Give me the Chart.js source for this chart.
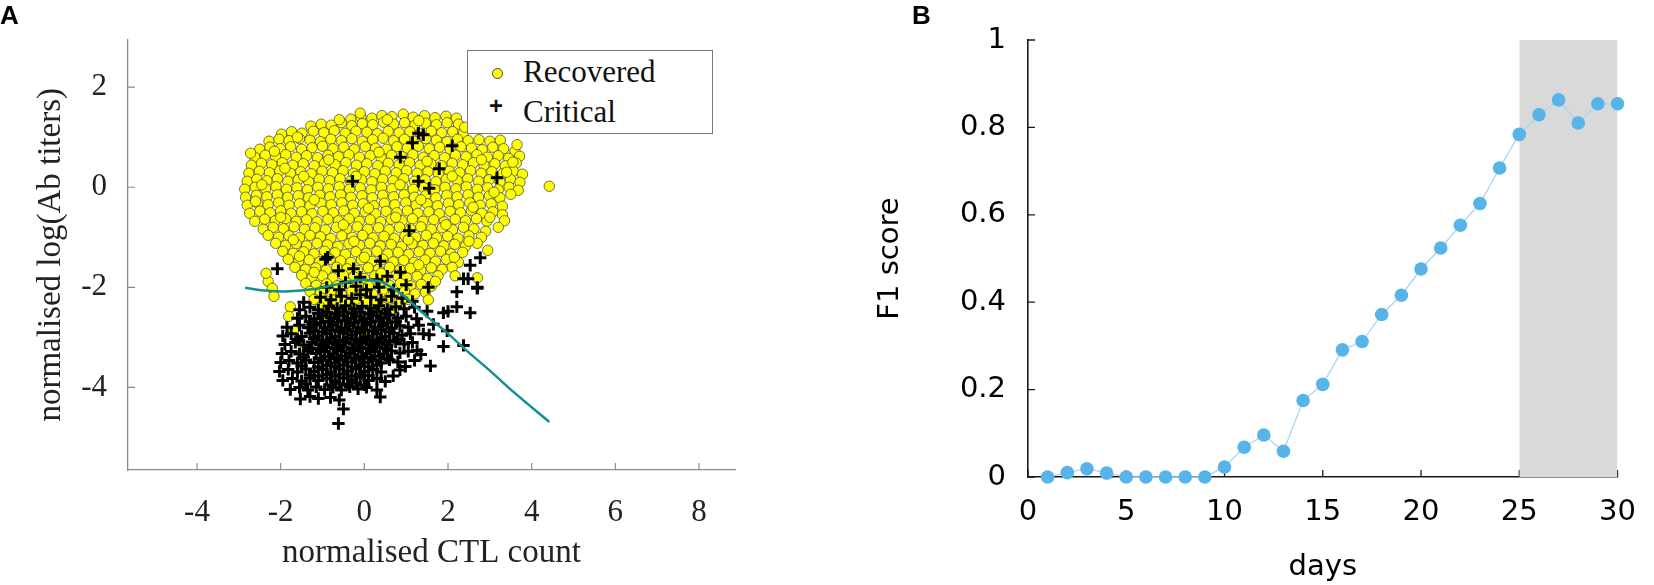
<!DOCTYPE html>
<html>
<head>
<meta charset="utf-8">
<script src="https://cdn.jsdelivr.net/npm/chart.js@4.4.1/dist/chart.umd.min.js"></script>
<style>
  html, body { margin: 0; padding: 0; background: #fff; overflow: hidden; }
  #page { position: relative; width: 1654px; height: 585px; }
  .panel { position: absolute; top: 0; height: 585px; }
  #panelA { left: 0; width: 760px; }
  #panelB { left: 840px; width: 814px; }
  .tag { position: absolute; font: bold 26px 'Liberation Sans', Arial, sans-serif; line-height: 26px; color: #000; }
  #legendA {
    position: absolute; left: 467px; top: 50px; width: 244px; height: 82px;
    border: 1px solid #7a7a7a; background: #fff;
    font: 31px 'Liberation Serif', 'DejaVu Serif', serif; color: #111;
  }
  #legendA .row { position: absolute; left: 0; height: 40px; line-height: 40px; }
  #legendA .lab { position: absolute; left: 55px; white-space: nowrap; }
  #legendA .dot {
    position: absolute; left: 24px; top: 16px; width: 9px; height: 9px; border-radius: 50%;
    background: #ffff00; border: 1px solid #444;
  }
  #legendA .plus { position: absolute; left: 21px; top: 0; font: bold 24px 'Liberation Sans', Arial, sans-serif; }
</style>
</head>
<body>
<div id="page">
  <div class="panel" id="panelA"><canvas id="chartA"></canvas></div>
  <div class="panel" id="panelB"><canvas id="chartB"></canvas></div>
  <div class="tag" style="left:0px; top:2px;">A</div>
  <div class="tag" style="left:912px; top:2px;">B</div>
  <div id="legendA">
    <div class="row" style="top:1px;"><span class="dot"></span><span class="lab">Recovered</span></div>
    <div class="row" style="top:41px;"><span class="plus">+</span><span class="lab">Critical</span></div>
  </div>
</div>
<script>
// ---- panel A data (normalised CTL count, normalised log Ab titers) ----
const recovered = [
  [-0.32,1.36],[-0.08,1.40],[0.18,1.38],[0.42,1.43],[0.66,1.41],[0.93,1.46],[1.17,1.40],[1.44,1.43],[1.69,1.39],[1.95,1.42],[2.2,1.38],
  [-1.28,1.22],[-1.03,1.26],[-0.79,1.24],[-0.55,1.29],[-0.3,1.23],[-0.05,1.27],[0.2,1.25],[0.46,1.30],[0.7,1.26],[0.96,1.29],[1.21,1.24],[1.46,1.28],[1.72,1.25],[1.98,1.29],[2.25,1.26],
  [-1.98,1.06],[-1.74,1.11],[-1.49,1.08],[-1.22,1.12],[-0.97,1.09],[-0.72,1.13],[-0.46,1.08],[-0.2,1.12],[0.06,1.10],[0.31,1.07],[0.57,1.12],[0.83,1.09],[1.09,1.11],[1.34,1.07],[1.6,1.12],[1.85,1.09],[2.11,1.11],[2.37,1.08],
  [-2.28,0.92],[-2.04,0.96],[-1.8,0.93],[-1.55,0.97],[-1.3,0.94],[-1.05,0.91],[-0.8,0.96],[-0.55,0.93],[-0.3,0.97],[-0.05,0.92],[0.2,0.95],[0.45,0.98],[0.7,0.93],[0.96,0.96],[1.21,0.92],[1.47,0.97],[1.72,0.94],[1.98,0.91],[2.23,0.96],[2.48,0.93],[2.74,0.95],[3.0,0.92],[3.25,0.94],
  [-2.5,0.76],[-2.26,0.80],[-2.01,0.77],[-1.76,0.81],[-1.5,0.76],[-1.25,0.79],[-1.0,0.82],[-0.75,0.77],[-0.49,0.80],[-0.24,0.76],[0.02,0.81],[0.27,0.78],[0.53,0.76],[0.78,0.81],[1.03,0.78],[1.29,0.82],[1.55,0.77],[1.8,0.80],[2.05,0.76],[2.31,0.81],[2.56,0.78],[2.82,0.75],[3.07,0.80],[3.33,0.77],[3.6,0.72],
  [-2.62,0.60],[-2.37,0.64],[-2.12,0.61],[-1.88,0.65],[-1.63,0.60],[-1.38,0.63],[-1.12,0.59],[-0.87,0.64],[-0.62,0.61],[-0.37,0.65],[-0.12,0.60],[0.14,0.63],[0.4,0.59],[0.65,0.64],[0.9,0.61],[1.16,0.65],[1.41,0.60],[1.67,0.63],[1.92,0.59],[2.18,0.64],[2.43,0.61],[2.69,0.65],[2.94,0.60],[3.2,0.63],[3.45,0.58],[3.71,0.62],
  [-2.7,0.44],[-2.46,0.48],[-2.21,0.45],[-1.96,0.49],[-1.71,0.44],[-1.46,0.47],[-1.2,0.43],[-0.95,0.48],[-0.7,0.45],[-0.44,0.49],[-0.19,0.44],[0.06,0.47],[0.32,0.43],[0.57,0.48],[0.83,0.45],[1.08,0.49],[1.33,0.44],[1.59,0.47],[1.84,0.43],[2.1,0.48],[2.35,0.45],[2.61,0.49],[2.86,0.44],[3.12,0.47],[3.37,0.43],[3.63,0.48],
  [-2.76,0.28],[-2.51,0.32],[-2.27,0.29],[-2.02,0.33],[-1.77,0.28],[-1.52,0.31],[-1.27,0.27],[-1.01,0.32],[-0.76,0.29],[-0.51,0.33],[-0.26,0.28],[0.0,0.31],[0.25,0.27],[0.5,0.32],[0.76,0.29],[1.01,0.33],[1.26,0.28],[1.52,0.31],[1.77,0.27],[2.03,0.32],[2.28,0.29],[2.54,0.33],[2.79,0.28],[3.05,0.31],[3.3,0.27],[3.56,0.32],[3.78,0.26],
  [-2.8,0.12],[-2.57,0.16],[-2.33,0.13],[-2.08,0.17],[-1.83,0.12],[-1.58,0.15],[-1.33,0.11],[-1.08,0.16],[-0.83,0.13],[-0.58,0.17],[-0.33,0.12],[-0.07,0.15],[0.18,0.11],[0.44,0.16],[0.69,0.13],[0.94,0.17],[1.2,0.12],[1.45,0.15],[1.71,0.11],[1.96,0.16],[2.22,0.13],[2.47,0.17],[2.73,0.12],[2.98,0.15],[3.24,0.11],[3.49,0.16],[3.72,0.10],
  [-2.86,-0.04],[-2.61,0.0],[-2.36,-0.03],[-2.11,0.01],[-1.86,-0.04],[-1.61,-0.01],[-1.36,-0.05],[-1.11,0.0],[-0.86,-0.03],[-0.6,0.01],[-0.35,-0.04],[-0.1,-0.01],[0.16,-0.05],[0.41,0.0],[0.66,-0.03],[0.92,0.01],[1.17,-0.04],[1.42,-0.01],[1.68,-0.05],[1.93,0.0],[2.19,-0.03],[2.44,0.01],[2.7,-0.04],[2.95,-0.01],[3.2,-0.05],[3.46,0.0],[3.68,-0.06],[4.42,0.02],
  [-2.84,-0.20],[-2.58,-0.16],[-2.33,-0.19],[-2.08,-0.15],[-1.83,-0.20],[-1.58,-0.17],[-1.33,-0.21],[-1.07,-0.16],[-0.82,-0.19],[-0.57,-0.15],[-0.32,-0.20],[-0.06,-0.17],[0.19,-0.21],[0.44,-0.16],[0.7,-0.19],[0.95,-0.15],[1.2,-0.20],[1.46,-0.17],[1.71,-0.21],[1.97,-0.16],[2.22,-0.19],[2.48,-0.15],[2.73,-0.20],[2.99,-0.17],[3.24,-0.21],[3.5,-0.14],
  [-2.8,-0.36],[-2.55,-0.32],[-2.3,-0.35],[-2.05,-0.31],[-1.8,-0.36],[-1.55,-0.33],[-1.3,-0.37],[-1.04,-0.32],[-0.79,-0.35],[-0.54,-0.31],[-0.28,-0.36],[-0.03,-0.33],[0.23,-0.37],[0.48,-0.32],[0.73,-0.35],[0.99,-0.31],[1.24,-0.36],[1.5,-0.33],[1.75,-0.37],[2.01,-0.32],[2.26,-0.35],[2.52,-0.31],[2.77,-0.36],[3.03,-0.33],[3.3,-0.38],
  [-2.74,-0.52],[-2.5,-0.48],[-2.25,-0.51],[-2.0,-0.47],[-1.75,-0.52],[-1.5,-0.49],[-1.25,-0.53],[-0.99,-0.48],[-0.74,-0.51],[-0.49,-0.47],[-0.24,-0.52],[0.02,-0.49],[0.27,-0.53],[0.52,-0.48],[0.78,-0.51],[1.03,-0.47],[1.28,-0.52],[1.54,-0.49],[1.79,-0.53],[2.05,-0.48],[2.3,-0.51],[2.56,-0.47],[2.81,-0.52],[3.07,-0.49],[3.3,-0.55],
  [-2.62,-0.68],[-2.38,-0.64],[-2.13,-0.67],[-1.88,-0.63],[-1.63,-0.68],[-1.38,-0.65],[-1.13,-0.69],[-0.87,-0.64],[-0.62,-0.67],[-0.37,-0.63],[-0.12,-0.68],[0.14,-0.65],[0.39,-0.69],[0.64,-0.64],[0.9,-0.67],[1.15,-0.63],[1.4,-0.68],[1.66,-0.65],[1.91,-0.69],[2.17,-0.64],[2.42,-0.67],[2.68,-0.63],[2.93,-0.68],[3.35,-0.67],
  [-2.42,-0.84],[-2.18,-0.80],[-1.93,-0.83],[-1.68,-0.79],[-1.43,-0.84],[-1.18,-0.81],[-0.93,-0.85],[-0.67,-0.80],[-0.42,-0.83],[-0.17,-0.79],[0.08,-0.84],[0.34,-0.81],[0.59,-0.85],[0.84,-0.80],[1.1,-0.83],[1.35,-0.79],[1.6,-0.84],[1.86,-0.81],[2.11,-0.85],[2.37,-0.80],[2.62,-0.83],[2.9,-0.88],[3.2,-0.80],
  [-2.3,-0.96],[-2.05,-1.0],[-1.8,-0.97],[-1.55,-1.01],[-1.3,-0.96],[-1.05,-0.99],[-0.8,-1.02],[-0.54,-0.97],[-0.29,-1.0],[-0.04,-0.96],[0.21,-1.01],[0.47,-0.98],[0.72,-1.02],[0.97,-0.97],[1.23,-1.0],[1.48,-0.96],[1.73,-1.01],[1.99,-0.98],[2.24,-1.02],[2.5,-0.97],[2.8,-1.0],
  [-2.12,-1.12],[-1.88,-1.16],[-1.63,-1.13],[-1.38,-1.17],[-1.13,-1.12],[-0.88,-1.15],[-0.63,-1.18],[-0.37,-1.13],[-0.12,-1.16],[0.13,-1.12],[0.38,-1.17],[0.64,-1.14],[0.89,-1.18],[1.14,-1.13],[1.4,-1.16],[1.65,-1.12],[1.9,-1.17],[2.16,-1.14],[2.42,-1.18],[2.7,-1.12],
  [-1.95,-1.28],[-1.7,-1.32],[-1.45,-1.29],[-1.2,-1.33],[-0.95,-1.28],[-0.7,-1.31],[-0.45,-1.34],[-0.2,-1.29],[0.05,-1.32],[0.3,-1.28],[0.56,-1.33],[0.81,-1.30],[1.06,-1.34],[1.31,-1.29],[1.57,-1.32],[1.82,-1.28],[2.07,-1.33],[2.35,-1.30],[2.95,-1.26],
  [-1.82,-1.44],[-1.57,-1.48],[-1.32,-1.45],[-1.07,-1.49],[-0.82,-1.44],[-0.57,-1.47],[-0.32,-1.50],[-0.07,-1.45],[0.18,-1.48],[0.44,-1.44],[0.69,-1.49],[0.94,-1.46],[1.19,-1.50],[1.45,-1.45],[1.7,-1.48],[1.96,-1.44],[2.25,-1.50],
  [-1.66,-1.60],[-1.41,-1.64],[-1.16,-1.61],[-0.91,-1.65],[-0.66,-1.60],[-0.41,-1.63],[-0.16,-1.66],[0.09,-1.61],[0.34,-1.64],[0.6,-1.60],[0.85,-1.65],[1.1,-1.62],[1.35,-1.66],[1.6,-1.61],[1.86,-1.64],[2.1,-1.60],
  [-2.3,-1.88],[-1.5,-1.76],[-1.25,-1.80],[-1.0,-1.77],[-0.75,-1.81],[-0.5,-1.76],[-0.25,-1.79],[0.0,-1.82],[0.25,-1.77],[0.5,-1.80],[0.76,-1.76],[1.01,-1.81],[1.26,-1.78],[1.51,-1.82],[1.76,-1.77],[2.17,-1.77],[2.7,-1.81],
  [-2.2,-2.02],[-1.4,-1.92],[-1.15,-1.96],[-0.9,-1.93],[-0.65,-1.97],[-0.4,-1.92],[-0.15,-1.95],[0.1,-1.98],[0.35,-1.93],[0.6,-1.96],[0.86,-1.92],[1.11,-1.97],[1.36,-1.94],[1.6,-1.98],
  [-2.16,-2.18],[-1.3,-2.08],[-1.05,-2.12],[-0.8,-2.09],[-0.55,-2.13],[-0.3,-2.08],[-0.05,-2.11],[0.2,-2.14],[0.45,-2.09],[0.7,-2.12],[0.96,-2.08],[1.21,-2.13],[1.46,-2.10],
  [-1.2,-2.24],[-0.95,-2.28],[-0.7,-2.25],[-0.45,-2.29],[-0.2,-2.24],[0.05,-2.27],[0.3,-2.30],[0.55,-2.25],[0.8,-2.28],[1.05,-2.24],[1.53,-2.25],
  [-1.77,-2.39],[-1.05,-2.40],[-0.8,-2.44],[-0.3,-2.42],[0.2,-2.45],[0.45,-2.40],[0.7,-2.43],
  [-1.81,-2.58],[-0.9,-2.62],[-0.4,-2.60],[0.1,-2.64],[0.4,-2.58],
  [-1.69,-2.87],[-0.55,-2.82],[0.0,-2.90],[0.3,-3.0],[-1.48,-3.30],
  // loose points scattered over the cloud
  [-2.15,0.72],[-1.6,1.0],[-0.6,1.35],[0.55,1.35],[1.3,1.33],[-1.9,0.38],[-0.85,0.55],[0.35,0.7],[1.5,0.52],[2.8,0.55],[3.4,0.3],
  [-2.45,0.05],[-1.45,0.22],[-0.2,0.22],[0.85,0.05],[2.1,0.22],[3.1,-0.1],[-2.6,-0.28],[-1.2,-0.25],[0.1,-0.42],[1.35,-0.25],
  [2.6,-0.4],[-2.0,-0.6],[-0.5,-0.75],[0.75,-0.6],[1.95,-0.75],[3.0,-0.6],[-1.7,-1.05],[-0.25,-1.08],[1.05,-1.05],[2.5,-1.08],
  [-1.55,-1.38],[0.0,-1.4],[1.3,-1.55],[2.15,-1.4],[-1.2,-1.7],[0.4,-1.72],[1.7,-1.88],[-0.95,-2.02],[0.6,-2.2],[-2.35,-1.72],
  [3.55,0.5],[3.65,0.85],[-2.72,0.68],[-0.1,1.48],[2.4,1.2],[-0.2,-2.55],[0.55,-2.7],[-0.75,-2.72]
];

const critical = [
  [1.29,1.08],[1.41,1.05],[1.15,0.89],[2.1,0.83],[0.86,0.6],[1.79,0.37],[3.17,0.19],[-0.28,0.12],[1.29,0.12],[1.55,-0.02],
  [1.07,-0.87],[-0.93,-1.44],[-0.88,-1.40],[-2.08,-1.63],
  [2.77,-1.41],[2.53,-1.56],[2.48,-1.83],[2.7,-2.0],[2.37,-1.83],[2.21,-2.09],[1.53,-2.0],[0.86,-1.7],[0.38,-1.48],[-0.26,-1.63],[-0.62,-1.67],
  [1.89,-3.18],[2.37,-3.16],[1.98,-2.87],[1.65,-2.74],[1.89,-2.51],[2.0,-2.48],[2.53,-2.51],[2.21,-2.39],[2.7,-2.02],[1.5,-2.48],[1.41,-2.93],[1.26,-3.26],
  [-0.1,-1.8],[0.3,-1.85],[0.55,-1.78],[-0.45,-1.9],
  [-0.9,-2.0],[-0.6,-2.05],[-0.2,-1.98],[0.05,-2.05],[0.35,-2.0],[0.7,-2.05],[1.0,-1.95],
  [-1.45,-2.3],[-1.05,-2.2],[-0.8,-2.25],[-0.55,-2.18],[-0.3,-2.22],[-0.1,-2.15],[0.15,-2.2],[0.4,-2.25],[0.65,-2.18],[0.9,-2.22],[1.15,-2.28],
  [-1.55,-2.45],[-1.3,-2.4],[-1.1,-2.45],[-0.85,-2.38],[-0.65,-2.42],[-0.45,-2.37],[-0.25,-2.43],[-0.05,-2.38],[0.15,-2.42],[0.35,-2.37],[0.55,-2.44],[0.75,-2.39],[0.95,-2.43],[1.2,-2.4],
  [-1.6,-2.62],[-1.4,-2.58],[-1.2,-2.63],[-1.0,-2.57],[-0.8,-2.61],[-0.6,-2.56],[-0.4,-2.62],[-0.2,-2.58],[0.0,-2.63],[0.2,-2.57],[0.4,-2.61],[0.6,-2.56],[0.8,-2.62],[1.0,-2.58],[1.25,-2.63],
  [-1.85,-2.8],[-1.55,-2.76],[-1.35,-2.81],[-1.15,-2.75],[-0.95,-2.8],[-0.75,-2.76],[-0.55,-2.82],[-0.35,-2.77],[-0.15,-2.81],[0.05,-2.75],[0.25,-2.8],[0.45,-2.76],[0.65,-2.82],[0.85,-2.77],[1.05,-2.8],[1.3,-2.76],
  [-1.95,-2.97],[-1.75,-2.93],[-1.5,-2.98],[-1.3,-2.92],[-1.1,-2.97],[-0.9,-2.93],[-0.7,-2.98],[-0.5,-2.92],[-0.3,-2.96],[-0.1,-2.91],[0.1,-2.97],[0.3,-2.93],[0.5,-2.98],[0.7,-2.92],[0.9,-2.96],[1.1,-2.93],[1.55,-2.95],
  [-1.9,-3.14],[-1.65,-3.1],[-1.45,-3.15],[-1.25,-3.09],[-1.05,-3.14],[-0.85,-3.1],[-0.65,-3.15],[-0.45,-3.09],[-0.25,-3.13],[-0.05,-3.08],[0.15,-3.14],[0.35,-3.1],[0.55,-3.15],[0.75,-3.09],[0.95,-3.13],[1.15,-3.1],
  [-1.97,-3.32],[-1.75,-3.28],[-1.55,-3.33],[-1.35,-3.27],[-1.15,-3.32],[-0.95,-3.28],[-0.75,-3.33],[-0.55,-3.27],[-0.35,-3.31],[-0.15,-3.26],[0.05,-3.32],[0.25,-3.28],[0.45,-3.33],[0.65,-3.27],[0.85,-3.31],[1.05,-3.28],[1.35,-3.34],
  [-2.0,-3.5],[-1.8,-3.46],[-1.6,-3.51],[-1.4,-3.45],[-1.2,-3.5],[-1.0,-3.46],[-0.8,-3.51],[-0.6,-3.45],[-0.4,-3.49],[-0.2,-3.44],[0.0,-3.5],[0.2,-3.46],[0.4,-3.51],[0.6,-3.45],[0.8,-3.49],[0.98,-3.58],[1.2,-3.46],[1.58,-3.57],
  [-2.03,-3.68],[-1.82,-3.64],[-1.6,-3.69],[-1.4,-3.63],[-1.2,-3.68],[-1.0,-3.64],[-0.8,-3.69],[-0.6,-3.63],[-0.4,-3.67],[-0.2,-3.62],[0.0,-3.68],[0.2,-3.64],[0.4,-3.69],[0.69,-3.77],[0.85,-3.65],
  [-1.95,-3.86],[-1.72,-3.82],[-1.5,-3.87],[-1.3,-3.81],[-1.1,-3.86],[-0.9,-3.82],[-0.7,-3.87],[-0.5,-3.81],[-0.3,-3.85],[-0.1,-3.8],[0.1,-3.86],[0.3,-3.82],[0.5,-3.88],
  [-1.77,-4.04],[-1.55,-4.0],[-1.35,-4.05],[-1.15,-3.99],[-0.95,-4.04],[-0.75,-4.0],[-0.55,-4.05],[-0.35,-3.99],[-0.15,-4.03],[0.05,-4.0],[0.3,-4.05],
  [-1.53,-4.23],[-1.3,-4.18],[-1.1,-4.22],[-0.81,-4.2],[-0.6,-4.25],[0.38,-4.19],
  [-0.5,-4.43],[-0.62,-4.72],
  // dense core of the critical cloud
  [-1.1,-2.52],[-0.9,-2.5],[-0.7,-2.53],[-0.5,-2.49],[-0.3,-2.52],[-0.1,-2.5],[0.1,-2.53],[0.3,-2.49],[0.5,-2.52],
  [-1.3,-2.69],[-1.05,-2.71],[-0.85,-2.68],[-0.65,-2.7],[-0.45,-2.67],[-0.25,-2.71],[-0.05,-2.68],[0.15,-2.7],[0.35,-2.67],[0.55,-2.71],[0.75,-2.69],
  [-1.2,-2.87],[-1.0,-2.89],[-0.8,-2.86],[-0.6,-2.88],[-0.4,-2.85],[-0.2,-2.89],[0.0,-2.86],[0.2,-2.88],[0.4,-2.85],[0.6,-2.89],
  [-1.6,-3.04],[-1.2,-3.02],[-1.0,-3.05],[-0.8,-3.03],[-0.6,-3.06],[-0.4,-3.02],[-0.2,-3.04],[0.0,-3.02],[0.2,-3.05],[0.4,-3.03],[0.6,-3.06],[0.8,-3.03],
  [-1.3,-3.21],[-1.1,-3.23],[-0.9,-3.2],[-0.7,-3.22],[-0.5,-3.19],[-0.3,-3.23],[-0.1,-3.2],[0.1,-3.22],[0.3,-3.19],[0.5,-3.22],
  [-1.45,-3.39],[-1.05,-3.41],[-0.85,-3.38],[-0.65,-3.4],[-0.45,-3.37],[-0.25,-3.41],[-0.05,-3.38],[0.15,-3.4],[0.35,-3.37],[0.55,-3.41],
  [-1.5,-3.57],[-1.1,-3.59],[-0.9,-3.56],[-0.7,-3.58],[-0.5,-3.55],[-0.3,-3.59],[-0.1,-3.56],[0.1,-3.58],[0.3,-3.55],
  [-1.3,-3.75],[-1.1,-3.77],[-0.9,-3.74],[-0.7,-3.76],[-0.5,-3.73],[-0.3,-3.77],[-0.1,-3.74],[0.1,-3.76],
  [-1.4,-3.93],[-0.8,-3.95],[-0.6,-3.92],[-0.4,-3.94],[-0.2,-3.91],[0.0,-3.95]
];

// decision boundary
const boundaryX = [-2.85, -2.31, -1.78, -1.25, -0.71, -0.18, 0.19, 0.46, 0.88, 1.42, 1.95, 2.48, 3.02, 3.55, 4.42];
const boundaryY = [-2.01, -2.07, -2.08, -2.04, -1.95, -1.86, -1.86, -1.91, -2.13, -2.53, -2.89, -3.29, -3.68, -4.08, -4.69];

const ctlTicks = [-4, -2, 0, 2, 4, 6, 8];
const abTicks = [-4, -2, 0, 2];

// ---- panel B data ----
const days = [1, 2, 3, 4, 5, 6, 7, 8, 9, 10, 11, 12, 13, 14, 15, 16, 17, 18, 19, 20, 21, 22, 23, 24, 25, 26, 27, 28, 29, 30];
const f1Scores = [0, 0.010, 0.019, 0.009, 0, 0, 0, 0, 0, 0.023, 0.068, 0.096, 0.059, 0.175, 0.212, 0.291, 0.310, 0.372, 0.416, 0.476,
                  0.524, 0.576, 0.626, 0.707, 0.784, 0.829, 0.863, 0.810, 0.854, 0.854];
const shadedDays = [25, 30];
const dayTicks = [0, 5, 10, 15, 20, 25, 30];
const f1Ticks = [0, 0.2, 0.4, 0.6, 0.8, 1];

// small ticks pointing into the plot, like the original figure
const inwardTicks = {
    id: 'inwardTicks',
    beforeDatasetsDraw(chart, args, opts) {
        const { ctx, chartArea, scales } = chart;
        ctx.save();
        ctx.strokeStyle = opts.color;
        ctx.lineWidth = opts.width;
        ctx.beginPath();
        scales.x.ticks.forEach(t => {
            const px = scales.x.getPixelForValue(t.value);
            ctx.moveTo(px, chartArea.bottom);
            ctx.lineTo(px, chartArea.bottom - opts.length);
        });
        scales.y.ticks.forEach(t => {
            const py = scales.y.getPixelForValue(t.value);
            ctx.moveTo(chartArea.left, py);
            ctx.lineTo(chartArea.left + opts.length, py);
        });
        ctx.stroke();
        ctx.restore();
    }
};

const serif = "'Liberation Serif', 'DejaVu Serif', serif";
const sans = "'DejaVu Sans', 'Liberation Sans', sans-serif";

new Chart(document.getElementById('chartA').getContext('2d'), {
    type: 'scatter',
    data: {
        datasets: [
            {
                label: 'boundary',
                data: boundaryX.map((x, i) => ({ x: x, y: boundaryY[i] })),
                showLine: true,
                borderColor: '#13908d',
                borderWidth: 2.5,
                pointRadius: 0,
                tension: 0.35,
                order: 0
            },
            {
                label: 'Critical',
                data: critical.map(p => ({ x: p[0], y: p[1] })),
                pointStyle: 'cross',
                pointRadius: 6.2,
                borderColor: '#000',
                borderWidth: 3,
                order: 1
            },
            {
                label: 'Recovered',
                data: recovered.map(p => ({ x: p[0], y: p[1] })),
                pointRadius: 5.2,
                backgroundColor: '#ffff00',
                borderColor: '#4a4a3a',
                borderWidth: 0.8,
                order: 2
            }
        ]
    },
    options: {
        responsive: true,
        maintainAspectRatio: false,
        animation: false,
        events: [],
        layout: { padding: { left: 0, right: 25, top: 27, bottom: 0 } },
        scales: {
            x: {
                type: 'linear',
                min: -5.65,
                max: 8.86,
                afterFit: s => { s.height = 115; },
                afterBuildTicks: s => { s.ticks = ctlTicks.map(v => ({ value: v })); },
                grid: { drawOnChartArea: false, drawTicks: false },
                border: { color: '#8a8a8a', width: 1.3 },
                ticks: { font: { family: serif, size: 31 }, color: '#222', padding: 24, maxRotation: 0, autoSkip: false },
                title: { display: true, text: 'normalised CTL count', font: { family: serif, size: 33 }, color: '#222', padding: { top: 0, bottom: 12 } }
            },
            y: {
                type: 'linear',
                min: -5.65,
                max: 2.95,
                afterFit: s => { s.width = 128; },
                afterBuildTicks: s => { s.ticks = abTicks.map(v => ({ value: v })); },
                grid: { drawOnChartArea: false, drawTicks: false },
                border: { color: '#8a8a8a', width: 1.3 },
                ticks: { font: { family: serif, size: 31 }, color: '#222', padding: 21 },
                title: { display: true, text: 'normalised log(Ab titers)', font: { family: serif, size: 33 }, color: '#222', padding: { top: 32, bottom: 0 } }
            }
        },
        plugins: {
            legend: { display: false },
            tooltip: { enabled: false },
            inwardTicks: { color: '#8a8a8a', width: 1.2, length: 7 }
        }
    },
    plugins: [inwardTicks]
});

new Chart(document.getElementById('chartB').getContext('2d'), {
    type: 'scatter',
    data: {
        datasets: [
            {
                label: 'F1 score',
                data: days.map((d, i) => ({ x: d, y: f1Scores[i] })),
                showLine: true,
                borderColor: '#a8d5f2',
                borderWidth: 1.3,
                pointRadius: 6.8,
                pointBackgroundColor: '#56b4e9',
                pointBorderWidth: 0,
                clip: false,
                order: 0
            },
            {
                label: 'window',
                data: shadedDays.map(d => ({ x: d, y: 1 })),
                showLine: true,
                fill: 'origin',
                backgroundColor: '#d9d9d9',
                borderWidth: 0,
                pointRadius: 0,
                order: 1
            }
        ]
    },
    options: {
        responsive: true,
        maintainAspectRatio: false,
        animation: false,
        events: [],
        layout: { padding: { left: 0, right: 27, top: 40, bottom: 0 } },
        scales: {
            x: {
                type: 'linear',
                min: 0,
                max: 30,
                afterFit: s => { s.height = 108; },
                afterBuildTicks: s => { s.ticks = dayTicks.map(v => ({ value: v })); },
                grid: { drawOnChartArea: false, drawTicks: false },
                border: { color: '#1a1a1a', width: 1.6 },
                ticks: { font: { family: sans, size: 29 }, color: '#000', padding: 18, maxRotation: 0, autoSkip: false },
                title: { display: true, text: 'days', font: { family: sans, size: 29 }, color: '#000', padding: { top: 0, bottom: 0 } }
            },
            y: {
                type: 'linear',
                min: 0,
                max: 1,
                afterFit: s => { s.width = 188; },
                afterBuildTicks: s => { s.ticks = f1Ticks.map(v => ({ value: v })); },
                grid: { drawOnChartArea: false, drawTicks: false },
                border: { color: '#1a1a1a', width: 1.6 },
                ticks: { font: { family: sans, size: 29 }, color: '#000', padding: 22, callback: v => String(v) },
                title: { display: true, text: 'F1 score', font: { family: sans, size: 29 }, color: '#000', padding: { top: 33, bottom: 0 } }
            }
        },
        plugins: {
            legend: { display: false },
            tooltip: { enabled: false },
            inwardTicks: { color: '#1a1a1a', width: 1.3, length: 7 }
        }
    },
    plugins: [inwardTicks]
});
</script>
</body>
</html>
